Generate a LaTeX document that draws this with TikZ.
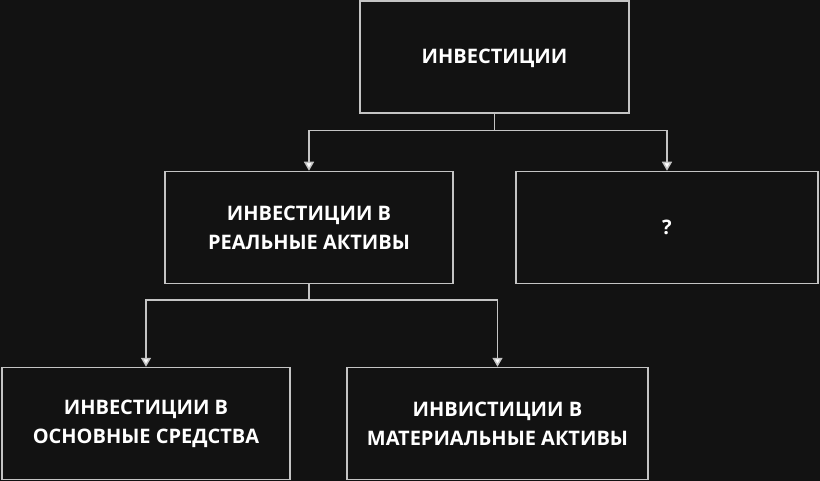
\documentclass[tikz,border=0pt]{standalone}
\usepackage{fontspec}
\setmainfont{Open Sans}
\usetikzlibrary{arrows.meta}
\definecolor{bgdark}{HTML}{121212}
\definecolor{edgegray}{HTML}{C4C4C4}

\begin{document}
\begin{tikzpicture}[x=1pt,y=-1pt,
    box/.style={draw=edgegray, line width=1.5pt, fill=bgdark, text=white,
      font=\bfseries\fontsize{20}{29}\selectfont, align=center,
      minimum height=112pt, inner sep=0pt},
    oneline/.style={text height=14pt, text depth=0pt},
    link/.style={draw=edgegray, line width=1.5pt},
    arr/.style={link, -{Triangle[width=10pt,length=9pt,fill=white]}}]
    \fill [bgdark] (0,0) rectangle (820,481);

    % boxes
    \node[box, oneline, minimum width=269pt] (inv) at (494.5,57) {ИНВЕСТИЦИИ};
    \node[box, minimum width=288pt] (real) at (309,227.5) {ИНВЕСТИЦИИ В\\РЕАЛЬНЫЕ АКТИВЫ};
    \node[box, oneline, minimum width=302pt] (other) at (667,227.5) {?};
    \node[box, minimum width=288pt] (fixed) at (146,423.5) {ИНВЕСТИЦИИ В\\ОСНОВНЫЕ СРЕДСТВА};
    \node[box, minimum width=301pt] (mat) at (497.5,423.5) {ИНВИСТИЦИИ В\\МАТЕРИАЛЬНЫЕ АКТИВЫ};

    % connectors
    \draw[link] (inv.south) -- ++(0,17) coordinate (split1);
    \draw[arr] (split1) -| (real.north);
    \draw[arr] (split1) -| (other.north);

    \draw[link] (real.south) -- ++(0,16) coordinate (split2);
    \draw[arr] (split2) -| (fixed.north);
    \draw[arr] (split2) -| (mat.north);

\end{tikzpicture}
\end{document}
